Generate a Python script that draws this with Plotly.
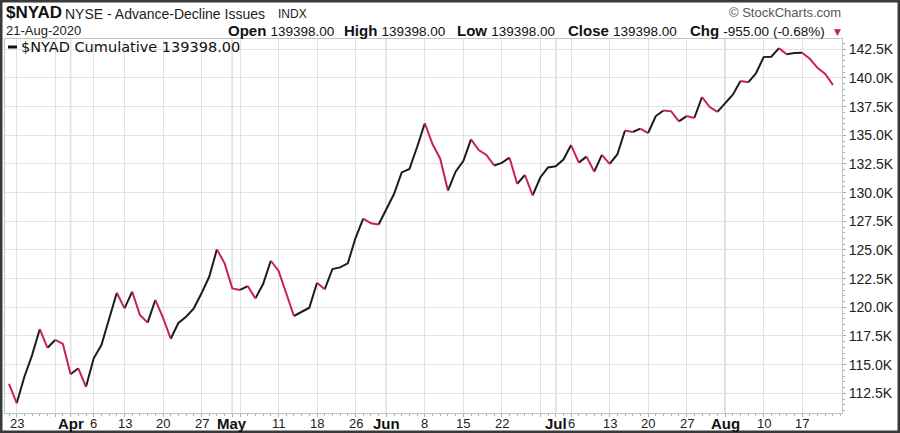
import pandas as pd
import plotly.graph_objects as go

# ---------------- data ----------------
HOLIDAYS = ["2020-04-10", "2020-05-25", "2020-07-03"]
dates = [d for d in pd.bdate_range("2020-03-20", "2020-08-21").strftime("%Y-%m-%d")
         if d not in HOLIDAYS]

# $NYAD cumulative, in thousands
values = [
    113.31, 111.63, 113.94, 115.83, 118.10, 116.47, 117.15, 116.80, 114.16, 114.68,
    113.06, 115.55, 116.71, 119.04, 121.27, 119.91, 121.36, 119.33, 118.66, 120.64,
    119.09, 117.26, 118.63, 119.18, 119.91, 121.22, 122.66, 125.05, 123.83, 121.65,
    121.51, 121.85, 120.78, 122.03, 124.06, 123.19, 121.22, 119.24, 119.59, 119.96,
    122.14, 121.57, 123.34, 123.48, 123.83, 126.04, 127.74, 127.33, 127.22, 128.57,
    129.88, 131.76, 132.06, 133.98, 136.05, 134.24, 132.96, 130.18, 131.83, 132.76,
    134.65, 133.72, 133.29, 132.37, 132.59, 133.05, 130.76, 131.54, 129.76, 131.32,
    132.20, 132.30, 132.89, 134.15, 132.62, 133.14, 131.83, 133.29, 132.50, 133.33,
    135.42, 135.29, 135.58, 135.20, 136.68, 137.16, 137.09, 136.22, 136.68, 136.51,
    138.34, 137.47, 137.05, 137.78, 138.54, 139.73, 139.62, 140.40, 141.82, 141.85,
    142.60, 142.06, 142.17, 142.20, 141.67, 140.88, 140.353, 139.398,
]

week_dates = ["2020-03-23", "2020-03-30", "2020-04-06", "2020-04-13", "2020-04-20",
              "2020-04-27", "2020-05-04", "2020-05-11", "2020-05-18", "2020-05-26",
              "2020-06-08", "2020-06-15", "2020-06-22", "2020-06-29", "2020-07-06",
              "2020-07-13", "2020-07-20", "2020-07-27", "2020-08-10", "2020-08-17"]
week_labels = ["23", "", "6", "13", "20", "27", "", "11", "18", "26",
               "8", "15", "22", "", "6", "13", "20", "27", "10", "17"]
month_dates = ["2020-04-01", "2020-05-01", "2020-06-01", "2020-07-01", "2020-08-03"]
month_labels = ["Apr", "May", "Jun", "Jul", "Aug"]

ytick_vals = [112.5, 115.0, 117.5, 120.0, 122.5, 125.0, 127.5, 130.0, 132.5,
              135.0, 137.5, 140.0, 142.5]
ytick_text = ["112.5K", "115.0K", "117.5K", "120.0K", "122.5K", "125.0K", "127.5K",
              "130.0K", "132.5K", "135.0K", "137.5K", "140.0K", "142.5K"]

title_sym = "$NYAD"
title_name = "NYSE - Advance-Decline Issues"
title_exch = "INDX"
date_label = "21-Aug-2020"
ohlc = [("Open", "139398.00"), ("High", "139398.00"), ("Low", "139398.00"),
        ("Close", "139398.00"), ("Chg", "-955.00 (-0.68%)")]
legend_text = "$NYAD Cumulative 139398.00"

# ---------------- layout geometry ----------------
W, H = 900, 433
L, T, R, B = 5, 39, 58, 20
PW, PH = W - L - R, H - T - B


def xp(px):
    return (px - L) / PW


def yp(py):
    return 1 - (py - T) / PH


UP = "#1c1c1c"
DOWN = "#c9234b"

xs = list(range(len(dates)))
pos = {d: i for i, d in enumerate(dates)}

# build up/down runs
up_x, up_y, dn_x, dn_y = [], [], [], []
n = len(values)
i = 0
while i < n - 1:
    up = values[i + 1] >= values[i]
    j = i
    while j < n - 1 and (values[j + 1] >= values[j]) == up:
        j += 1
    tx, ty = (up_x, up_y) if up else (dn_x, dn_y)
    tx += xs[i:j + 1] + [None]
    ty += values[i:j + 1] + [None]
    i = j

fig = go.Figure()
fig.add_trace(go.Scatter(x=up_x, y=up_y, mode="lines", line=dict(color=UP, width=2),
                         connectgaps=False, hoverinfo="skip", showlegend=False))
fig.add_trace(go.Scatter(x=dn_x, y=dn_y, mode="lines", line=dict(color=DOWN, width=2),
                         connectgaps=False, hoverinfo="skip", showlegend=False))

tickvals = [pos[d] for d in week_dates] + [pos[d] for d in month_dates]

shapes = []
for d in month_dates:
    shapes.append(dict(type="line", xref="x", yref="paper", x0=pos[d], x1=pos[d],
                       y0=0, y1=1, line=dict(color="#c2c2c2", width=1.3), layer="below"))
# legend dash
shapes.append(dict(type="line", xref="paper", yref="paper", x0=xp(8), x1=xp(17),
                   y0=yp(47), y1=yp(47), line=dict(color="#111", width=3)))
# outer frame
shapes.append(dict(type="rect", xref="paper", yref="paper", x0=xp(1), x1=xp(899),
                   y0=yp(1), y1=yp(432), line=dict(color="#3a3a3a", width=3)))

FONT = "Liberation Sans, Arial, sans-serif"
ann = []
ann.append(dict(x=xp(4), y=yp(13), text="<b>%s</b>" % title_sym, font=dict(size=17, color="#111")))
ann.append(dict(x=xp(63), y=yp(14), text=title_name, font=dict(size=14, color="#222")))
ann.append(dict(x=xp(276), y=yp(14), text=title_exch, font=dict(size=12, color="#222")))
ann.append(dict(x=xp(4), y=yp(31), text=date_label, font=dict(size=13, color="#222")))
ohlc_x = [226, 342, 455, 566, 688]
for (lab, val), px in zip(ohlc, ohlc_x):
    ann.append(dict(x=xp(px), y=yp(31),
                    text="<b>%s</b> <span style='font-size:13.5px'>%s</span>" % (lab, val),
                    font=dict(size=15, color="#111")))
ann.append(dict(x=xp(843), y=yp(32), text="▼", xanchor="right",
                font=dict(size=9, color=DOWN, family="DejaVu Sans")))
ann.append(dict(x=xp(843), y=yp(13), text="© StockCharts.com", xanchor="right",
                font=dict(size=13, color="#555")))
ann.append(dict(x=xp(19), y=yp(47), text="<span>%s</span>" % legend_text,
                font=dict(size=14.5, color="#111", family="DejaVu Sans")))
for a in ann:
    a.setdefault("xanchor", "left")
    a.update(xref="paper", yref="paper", yanchor="middle", showarrow=False)
    a["font"].setdefault("family", FONT)
# x-axis labels: day numbers (regular) and months (bold, larger)
for d, lab in zip(week_dates, week_labels):
    if lab:
        ann.append(dict(x=pos[d], xref="x", y=yp(423), yref="paper", yanchor="middle",
                        xanchor="center", showarrow=False, text=lab,
                        font=dict(size=13, color="#222", family=FONT)))
for d, m in zip(month_dates, month_labels):
    ann.append(dict(x=pos[d], xref="x", y=yp(423), yref="paper", yanchor="middle",
                    xanchor="center", showarrow=False, text="<b>%s</b>" % m,
                    font=dict(size=15, color="#111", family=FONT)))

fig.update_layout(
    width=W, height=H,
    margin=dict(l=L, r=R, t=T, b=B, pad=0),
    paper_bgcolor="white", plot_bgcolor="white",
    font=dict(family=FONT, size=13, color="#222"),
    shapes=shapes, annotations=ann, showlegend=False,
    xaxis=dict(range=[-0.52, 108.18], tickmode="array", tickvals=tickvals,
               showticklabels=False, automargin=False,
               showgrid=True, gridcolor="#e2e2e2",
               gridwidth=1, zeroline=False, showline=True, linecolor="#c4c4c4",
               mirror=True, ticks="outside", ticklen=3, tickcolor="#aaa",
               minor=dict(tickmode="linear", tick0=0, dtick=1, ticks="outside",
                          ticklen=2, tickcolor="#b0b0b0", showgrid=False),
               fixedrange=True),
    yaxis=dict(range=[110.78, 143.40], side="right", tickmode="array",
               tickvals=ytick_vals, ticktext=ytick_text, automargin=False,
               showgrid=True,
               gridcolor="#e2e2e2", gridwidth=1, zeroline=False, showline=True,
               linecolor="#c4c4c4", mirror=True, ticks="outside", ticklen=3,
               tickcolor="#aaa", tickfont=dict(size=14, color="#222", family=FONT),
               minor=dict(tickmode="linear", tick0=0, dtick=0.5, ticks="outside",
                          ticklen=2, tickcolor="#b0b0b0", showgrid=False),
               fixedrange=True),
)

fig.write_html("out.html", config={"displayModeBar": False},
               post_script="document.body.style.margin='0';"
                           "document.body.style.overflow='hidden';")
